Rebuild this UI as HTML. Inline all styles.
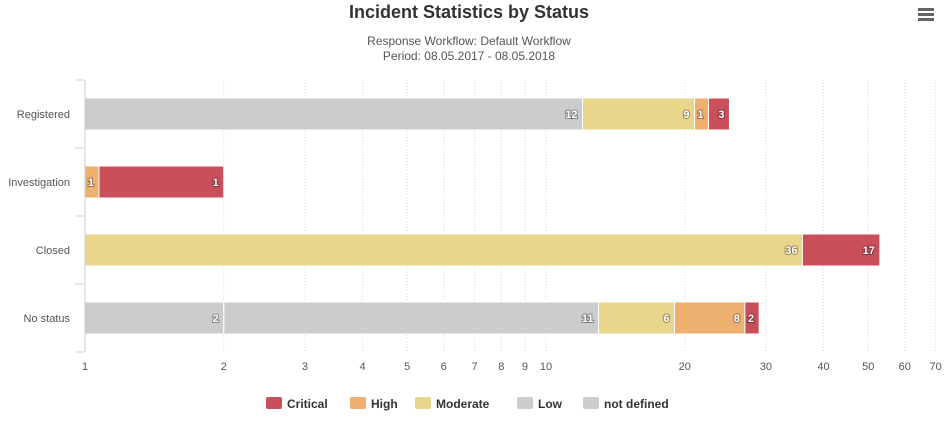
<!DOCTYPE html>
<html><head><meta charset="utf-8"><style>
body{margin:0;background:#fff;font-family:"Liberation Sans","DejaVu Sans",sans-serif;}
svg text{font-family:"Liberation Sans","DejaVu Sans",sans-serif;}
</style></head><body>
<svg id="chart" width="946" height="422" xmlns="http://www.w3.org/2000/svg">
<text x="469" y="18" text-anchor="middle" font-size="18" font-weight="bold" fill="#333">Incident Statistics by Status</text>
<text x="469" y="45" text-anchor="middle" font-size="12" fill="#555">Response Workflow: Default Workflow</text>
<text x="469" y="60" text-anchor="middle" font-size="12" fill="#555">Period: 08.05.2017 - 08.05.2018</text>
<g>
<rect x="918" y="8" width="16" height="3" fill="#666"/><rect x="918" y="13" width="16" height="3" fill="#666"/><rect x="918" y="18" width="16" height="3" fill="#666"/>
</g>
<g id="grid"></g><g id="bars"></g><g id="axes"></g>
<g id="legend"></g>
</svg>
<script>
const categories = ["Registered","Investigation","Closed","No status"];
const seriesNames = ["not defined","Low","Moderate","High","Critical"];
const seriesColors = ["#cccccc","#cccccc","#e9d68a","#eeb06e","#c94f5a"];
const notDefined = [12,0,0,2];
const low = [0,0,0,11];
const moderate = [9,0,36,6];
const high = [1,1,0,8];
const critical = [3,1,17,2];
const tickValues = [1,2,3,4,5,6,7,8,9,10,20,30,40,50,60,70];
const legendOrder = ["Critical","High","Moderate","Low","not defined"];
const legendColors = ["#c94f5a","#eeb06e","#e9d68a","#cccccc","#cccccc"];

const NS="http://www.w3.org/2000/svg";
const L=85,DEC=461,T=80,B=352;
const band=(B-T)/categories.length;
function xs(v){ if(v<=1) return L; return L+DEC*Math.log10(v); }
function yc(i){ return T+band*(i+0.5); }
function mk(tag,attrs,parent){const e=document.createElementNS(NS,tag);for(const k in attrs)e.setAttribute(k,attrs[k]);parent.appendChild(e);return e;}
const grid=document.getElementById('grid'),bars=document.getElementById('bars'),axes=document.getElementById('axes'),legend=document.getElementById('legend');

tickValues.forEach(v=>{
  const x=xs(v);
  if(v>1){const g=mk('line',{x1:x,x2:x,y1:T,y2:B,stroke:'#d8d8d8','stroke-dasharray':'1,2'},grid);
  
  }
  const t=mk('text',{x:x,y:370,'text-anchor':'middle','font-size':11,fill:'#555'},axes);
  t.textContent=v;
  
  
});
const al=mk('line',{x1:L,x2:L,y1:T,y2:B,stroke:'#c0d0e0'},axes);


for(let i=0;i<=categories.length;i++){
  const y=T+band*i;
  const tk=mk('line',{x1:L-10,x2:L,y1:y,y2:y,stroke:'#c0d0e0'},axes);
  
  
}
categories.forEach((c,i)=>{
  const t=mk('text',{x:70,y:yc(i)+4,'text-anchor':'end','font-size':11,fill:'#555'},axes);
  t.textContent=c;
  
  
});
const data=[notDefined,low,moderate,high,critical];
categories.forEach((c,i)=>{
  let cum=0, prevEnd=L;
  data.forEach((arr,s)=>{
    const v=arr[i]; if(!v) return;
    let x0=xs(cum); cum+=v; let x1=xs(cum);
    if(x1-x0<14){x1=x0+14;}
    if(x0<prevEnd) x0=prevEnd;
    const r=mk('rect',{x:x0,y:yc(i)-16,width:Math.max(0,x1-x0),height:32,fill:seriesColors[s],stroke:'#fff','stroke-width':1},bars);
    
    
    const t=mk('text',{x:x1-5,y:yc(i)+4,'text-anchor':'end','font-size':11,'font-weight':'bold',fill:'#fff',style:'paint-order:stroke;stroke:rgba(0,0,0,0.35);stroke-width:2px'},bars);
    t.textContent=v;
    
    
    prevEnd=x1;
  });
});
const lx=[266,350,415,517,583];
legendOrder.forEach((n,k)=>{
  const g=mk('g',{},legend);
  
  
  mk('rect',{x:lx[k],y:397,width:16,height:12,rx:2,fill:legendColors[k]},g);
  const t=mk('text',{x:lx[k]+21,y:408,'font-size':12,'font-weight':'bold',fill:'#333'},g);
  t.textContent=n;
});
</script>
</body></html>
